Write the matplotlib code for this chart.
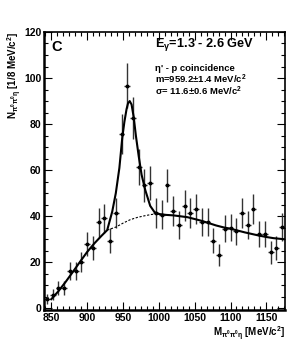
import numpy as np
import matplotlib
matplotlib.use("Agg")
import matplotlib.pyplot as plt
from matplotlib.ticker import MultipleLocator

plt.rcParams["font.family"] = ["Liberation Sans", "DejaVu Sans"]
plt.rcParams["font.weight"] = "bold"
plt.rcParams["mathtext.default"] = "regular"

# data points (bin centres, 8 MeV bins)
mass = [844, 852, 860, 868, 876, 884, 892, 900, 908, 916, 924, 932, 940,
        948, 956, 964, 972, 980, 988,
        996, 1004, 1012, 1020, 1028, 1036, 1044, 1052, 1060, 1068, 1076,
        1084, 1092, 1100, 1108, 1116, 1124, 1132, 1140, 1148, 1156, 1164, 1172]
counts = [4.1, 6.0, 9.0, 9.0, 16.2, 16.2, 20.2, 28.0, 26.2, 37.3, 39.2, 29.3, 41.4,
          75.5, 96.7, 82.5, 61.5, 53.4, 54.4,
          41.4, 40.7, 53.4, 42.1, 36.3, 44.6, 41.4, 43.3, 37.5, 37.5, 29.3,
          23.3, 34.6, 35.1, 33.4, 41.4, 36.3, 43.3, 32.2, 32.2, 24.3, 26.2, 35.3]

# total fit curve (solid)
fit_m = [850, 860, 870, 880, 890, 900, 910, 920, 928, 935, 940, 945, 949, 952,
         955, 957, 959.4, 962, 965, 968, 972, 976, 981, 988, 994, 1000, 1010,
         1020, 1030, 1040, 1050, 1060, 1070, 1080, 1090, 1100, 1110, 1120,
         1130, 1140, 1150, 1160, 1176]
fit_n = [4.0, 7.5, 11.5, 15.8, 20.2, 24.5, 28.2, 31.5, 34.0, 42.0, 50.0, 61.0, 74.0, 81.0,
         86.5, 89.0, 90.0, 88.5, 83.0, 75.0, 66.0, 58.0, 51.5, 44.5, 41.8, 41.0, 40.6,
         40.4, 40.0, 39.6, 38.8, 38.0, 37.0, 36.0, 35.2, 34.6, 33.8, 33.0,
         32.3, 31.6, 31.0, 30.5, 30.0]

# background under the peak (dashed)
bg_m = [928, 940, 950, 960, 970, 980, 990, 1000]
bg_n = [34.0, 35.3, 37.0, 38.5, 39.5, 40.2, 40.8, 41.0]

fig = plt.figure(figsize=(3.0, 3.51), dpi=100)
ax = fig.add_axes([0.147, 0.117, 0.803, 0.792])

ax.errorbar(mass, counts, yerr=np.sqrt(counts), xerr=4, fmt="o", ms=1.8,
            color="black", ecolor="#333333", elinewidth=1.0, capsize=0)
ax.plot(fit_m, fit_n, color="black", lw=1.5)
ax.plot(bg_m, bg_n, color="black", lw=0.8, ls=(0, (2, 1.5)))

ax.set_xlim(840, 1176)
ax.set_ylim(-0.65, 120)
ax.xaxis.set_major_locator(MultipleLocator(50))
ax.xaxis.set_minor_locator(MultipleLocator(50 / 6))
ax.yaxis.set_major_locator(MultipleLocator(20))
ax.yaxis.set_minor_locator(MultipleLocator(5))
ax.tick_params(which="both", direction="in", top=True, right=True,
               labelsize=7.5, pad=2)
ax.tick_params(which="major", length=6, width=0.8)
ax.tick_params(which="minor", length=3, width=0.8)
for lbl in ax.get_xticklabels() + ax.get_yticklabels():
    lbl.set_fontweight("bold")
for side in ("left", "bottom"):
    ax.spines[side].set_linewidth(1.8)
for side in ("top", "right"):
    ax.spines[side].set_linewidth(1.2)

ax.set_ylabel(r"N$_{\pi^0\pi^0\eta}$ [1/8 MeV/c$^2$]", fontsize=7, fontweight="bold",
              ha="right", va="center")
ax.yaxis.set_label_coords(-0.12, 1.0)
ax.set_xlabel(r"M$_{\pi^0\pi^0\eta}$ [MeV/c$^2$]", fontsize=7, fontweight="bold",
              ha="right", va="center")
ax.xaxis.set_label_coords(1.0, -0.085)

ax.text(0.03, 0.946, "C", transform=ax.transAxes, fontsize=10.5,
        fontweight="bold", va="center")
ax.text(0.46, 0.955, r"E$_{\gamma}$=1.3 - 2.6 GeV", transform=ax.transAxes,
        fontsize=9.2, fontweight="bold", va="center")
ax.text(0.46, 0.867, "η' - p coincidence", transform=ax.transAxes,
        fontsize=6.8, fontweight="bold", va="center")
ax.text(0.46, 0.829, r"m=959.2±1.4 MeV/c$^2$", transform=ax.transAxes,
        fontsize=6.8, fontweight="bold", va="center")
ax.text(0.46, 0.785, r"σ= 11.6±0.6 MeV/c$^2$", transform=ax.transAxes,
        fontsize=6.8, fontweight="bold", va="center")

fig.savefig("out.png", dpi=100)
